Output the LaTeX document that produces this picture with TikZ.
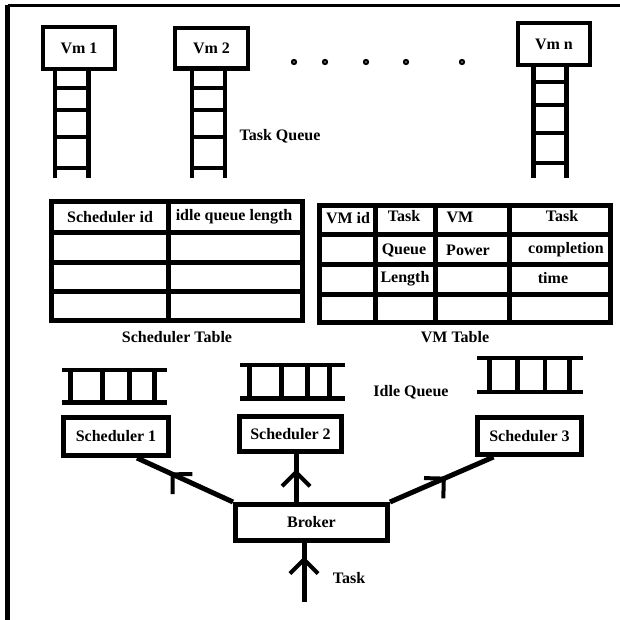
\documentclass[tikz,border=0pt]{standalone}
\usepackage{fontspec}
\setmainfont{Liberation Serif}
\usetikzlibrary{decorations.markings}
\tikzset{
  every node/.style={font=\fontsize{16}{18}\selectfont\bfseries},
  box/.style={draw, line width=4.5pt, inner sep=0pt},
  bar/.style={line width=4.5pt},
  grid/.style={line width=5pt},
  flow/.style 2 args={line width=5pt, postaction={decorate},
    decoration={markings, mark=at position #1 with
      {\draw[line width=4pt, rotate=#2] (-14pt,14pt) -- (0,0) -- (-14pt,-14pt);}}},
}
\begin{document}
\begin{tikzpicture}[x=1pt,y=-1pt]
\useasboundingbox (0,0) rectangle (620,620);

% Frame
\draw[line width=3.5pt] (620,5.5) -- (7.5,5.5);
\draw[line width=4.5pt] (7.5,5.5) -- (7.5,620);

% VMs
\node[box, minimum width=72pt, minimum height=42pt] (vm1) at (79,48) {Vm 1};
\node[box, minimum width=73pt, minimum height=40.5pt] (vm2) at (211.5,48.25) {Vm 2};
\node[box, minimum width=72pt, minimum height=42pt] (vmn) at (554,44) {Vm n};

% Dots between the VMs
\foreach \x in {294,325,366,406,462}
  \draw[line width=2.2pt] (\x,62) circle (2pt);

% Task queues
\foreach \x in {55,88.5,192,225} \draw[bar] (\x,69) -- (\x,178);
\foreach \y in {88,110,137,168} \draw[bar] (55,\y) -- (88.5,\y) (192,\y) -- (225,\y);
\foreach \x in {533.5,566.5} \draw[bar] (\x,65) -- (\x,178);
\foreach \y in {82,105,133,163} \draw[bar] (533.5,\y) -- (566.5,\y);
\node (taskq) at (280,136) {Task Queue};

% Scheduler table
\draw[grid] (51.5,201.5) rectangle (302.5,320.5);
\draw[grid] (168,201.5) -- (168,320.5);
\foreach \y in {232.5,262,291.5} \draw[grid] (51.5,\y) -- (302.5,\y);
\node (schid) at (110,217) {Scheduler id};
\node (idlelen) at (234,217) {idle queue length};
\node (schtab) at (177,337) {Scheduler Table};

% VM table
\draw[grid] (319.5,205.5) rectangle (610,322.5);
\foreach \x in {375.5,435.5,509.5} \draw[grid] (\x,205.5) -- (\x,322.5);
\foreach \y in {234.5,264,294} \draw[grid] (319.5,\y) -- (610,\y);
\node (vmid) at (348,218) {VM id};
\node (tq1) at (404,216) {Task};
\node (tq2) at (404,250) {Queue};
\node (tq3) at (405,279) {Length};
\node (vp1) at (460,217) {VM};
\node (vp2) at (468,250) {Power};
\node (tc1) at (562,216) {Task};
\node (tc2) at (566,250) {completion};
\node (tc3) at (553,278) {time};
\node (vmtab) at (455,337) {VM Table};

% Idle queues
\draw[bar] (62,370) -- (167,370) (62,402.5) -- (167,402.5);
\foreach \x in {70.5,102.5,129.5,154.5} \draw[bar] (\x,370) -- (\x,402.5);
\draw[bar] (240,365) -- (345,365) (240,398.5) -- (345,398.5);
\foreach \x in {249.5,281.5,307.5,329.5} \draw[bar] (\x,365) -- (\x,398.5);
\draw[bar] (477,358) -- (583,358) (477,392) -- (583,392);
\foreach \x in {489.5,517.5,545,569.5} \draw[bar] (\x,358) -- (\x,392);
\node (idleq) at (411,392) {Idle Queue};

% Schedulers and broker
\node[box, line width=5pt, minimum width=105pt, minimum height=38pt] (sch1) at (116,436.5) {Scheduler 1};
\node[box, line width=5pt, minimum width=102pt, minimum height=35pt] (sch2) at (290.5,434) {Scheduler 2};
\node[box, line width=5pt, minimum width=104pt, minimum height=37pt] (sch3) at (529.5,436) {Scheduler 3};
\node[box, line width=5pt, minimum width=152pt, minimum height=36pt] (broker) at (311.5,522.5) {Broker};

% Connectors
\draw[flow={0.63}{-20}] (broker.north west) -- ([xshift=21pt]sch1.south);
\coordinate (s2foot) at ([xshift=5.5pt]sch2.south);
\draw[flow={0.62}{0}] (s2foot |- broker.north) -- (s2foot);
\draw[flow={0.52}{20}] (broker.north east) -- ([xshift=-36pt]sch3.south);
\coordinate (taskin) at (304,602);
\draw[flow={0.72}{0}] (taskin) -- (taskin |- broker.south);
\node (tasklbl) at (349,578) {Task};

\end{tikzpicture}
\end{document}
